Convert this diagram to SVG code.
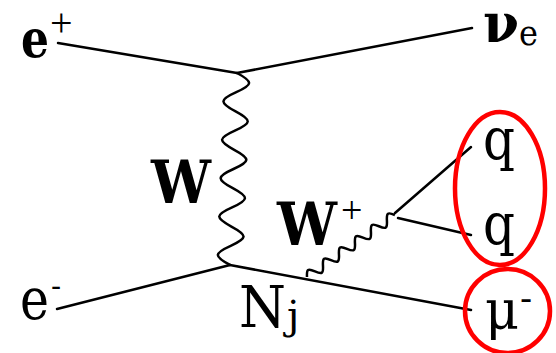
<svg xmlns="http://www.w3.org/2000/svg" width="556" height="353" viewBox="0 0 556 353">
<style>
.ln{fill:none;stroke:#000;stroke-width:2.5;stroke-linecap:round}
.wv{fill:none;stroke:#000;stroke-width:2.5;stroke-linejoin:round}
.ring{fill:none;stroke:#ff0000;stroke-width:4.5}
text{font-family:'DejaVu Serif',serif;fill:#000}
.b{font-weight:bold}
.pl{font-family:'Liberation Serif',serif}
</style>
<rect width="556" height="353" fill="#fff"/>
<g id="connectors">
<line class="ln" x1="58" y1="43" x2="237" y2="73"/>
<line class="ln" x1="237" y1="73" x2="472" y2="28"/>
<line class="ln" x1="57" y1="309" x2="230" y2="265"/>
<line class="ln" x1="230" y1="265" x2="471" y2="310"/>
<line class="ln" x1="395" y1="213" x2="471" y2="147"/>
<line class="ln" x1="398" y1="218" x2="471" y2="235"/>
<path class="wv" transform="translate(237,73) rotate(2.09)" d="M0,0 c16.67,8.15 16.67,11.06 0,19.21 c-16.67,8.15 -16.67,11.06 0,19.21 c16.67,8.15 16.67,11.06 0,19.21 c-16.67,8.15 -16.67,11.06 0,19.21 c16.67,8.15 16.67,11.06 0,19.21 c-16.67,8.15 -16.67,11.06 0,19.21 c16.67,8.15 16.67,11.06 0,19.21 c-16.67,8.15 -16.67,11.06 0,19.21 c16.67,8.15 16.67,11.06 0,19.21 c-16.67,8.15 -16.67,11.06 0,19.21"/>
<path class="wv" transform="translate(307,277) rotate(-125.2)" d="M0,0 c6.67,4.15 6.67,5.63 0,9.78 c-6.67,4.15 -6.67,5.63 0,9.78 c6.67,4.15 6.67,5.63 0,9.78 c-6.67,4.15 -6.67,5.63 0,9.78 c6.67,4.15 6.67,5.63 0,9.78 c-6.67,4.15 -6.67,5.63 0,9.78 c6.67,4.15 6.67,5.63 0,9.78 c-6.67,4.15 -6.67,5.63 0,9.78 c6.67,4.15 6.67,5.63 0,9.78 c-6.67,4.15 -6.67,5.63 0,9.78 c6.67,4.15 6.67,5.63 0,9.78"/>
</g>
<g id="e_plus"><text class="b" x="21" y="57" font-size="53" textLength="28" lengthAdjust="spacingAndGlyphs">e</text><text class="pl" x="50" y="36" font-size="40">+</text></g>
<g id="nu_e"><text class="b" x="483" y="42" font-size="55" textLength="36" lengthAdjust="spacingAndGlyphs">ν</text><text x="519" y="45" font-size="36" textLength="19" lengthAdjust="spacingAndGlyphs">e</text></g>
<g id="W_label"><text class="b" x="151" y="203" font-size="59" textLength="60" lengthAdjust="spacingAndGlyphs">W</text></g>
<g id="W_plus"><text class="b" x="277" y="245" font-size="59" textLength="60" lengthAdjust="spacingAndGlyphs">W</text><text class="pl" x="341" y="223" font-size="38">+</text></g>
<g id="e_minus"><text x="20" y="319" font-size="57" textLength="29" lengthAdjust="spacingAndGlyphs">e</text><text x="51" y="296" font-size="30">-</text></g>
<g id="N_j"><text x="239" y="327" font-size="58" textLength="47" lengthAdjust="spacingAndGlyphs">N</text><text x="287" y="329" font-size="40">j</text></g>
<g id="q1"><text x="483" y="159" font-size="57" textLength="32" lengthAdjust="spacingAndGlyphs">q</text></g>
<g id="q2"><text x="483" y="244" font-size="57" textLength="32" lengthAdjust="spacingAndGlyphs">q</text></g>
<g id="mu_minus"><text x="485" y="329" font-size="54" textLength="34" lengthAdjust="spacingAndGlyphs">μ</text><text x="520" y="310" font-size="36">-</text></g>
<g id="ring_qq"><ellipse class="ring" cx="500" cy="188.5" rx="45" ry="76.5"/></g>
<g id="ring_mu"><ellipse class="ring" cx="507.5" cy="311" rx="42.5" ry="42"/></g>
</svg>
